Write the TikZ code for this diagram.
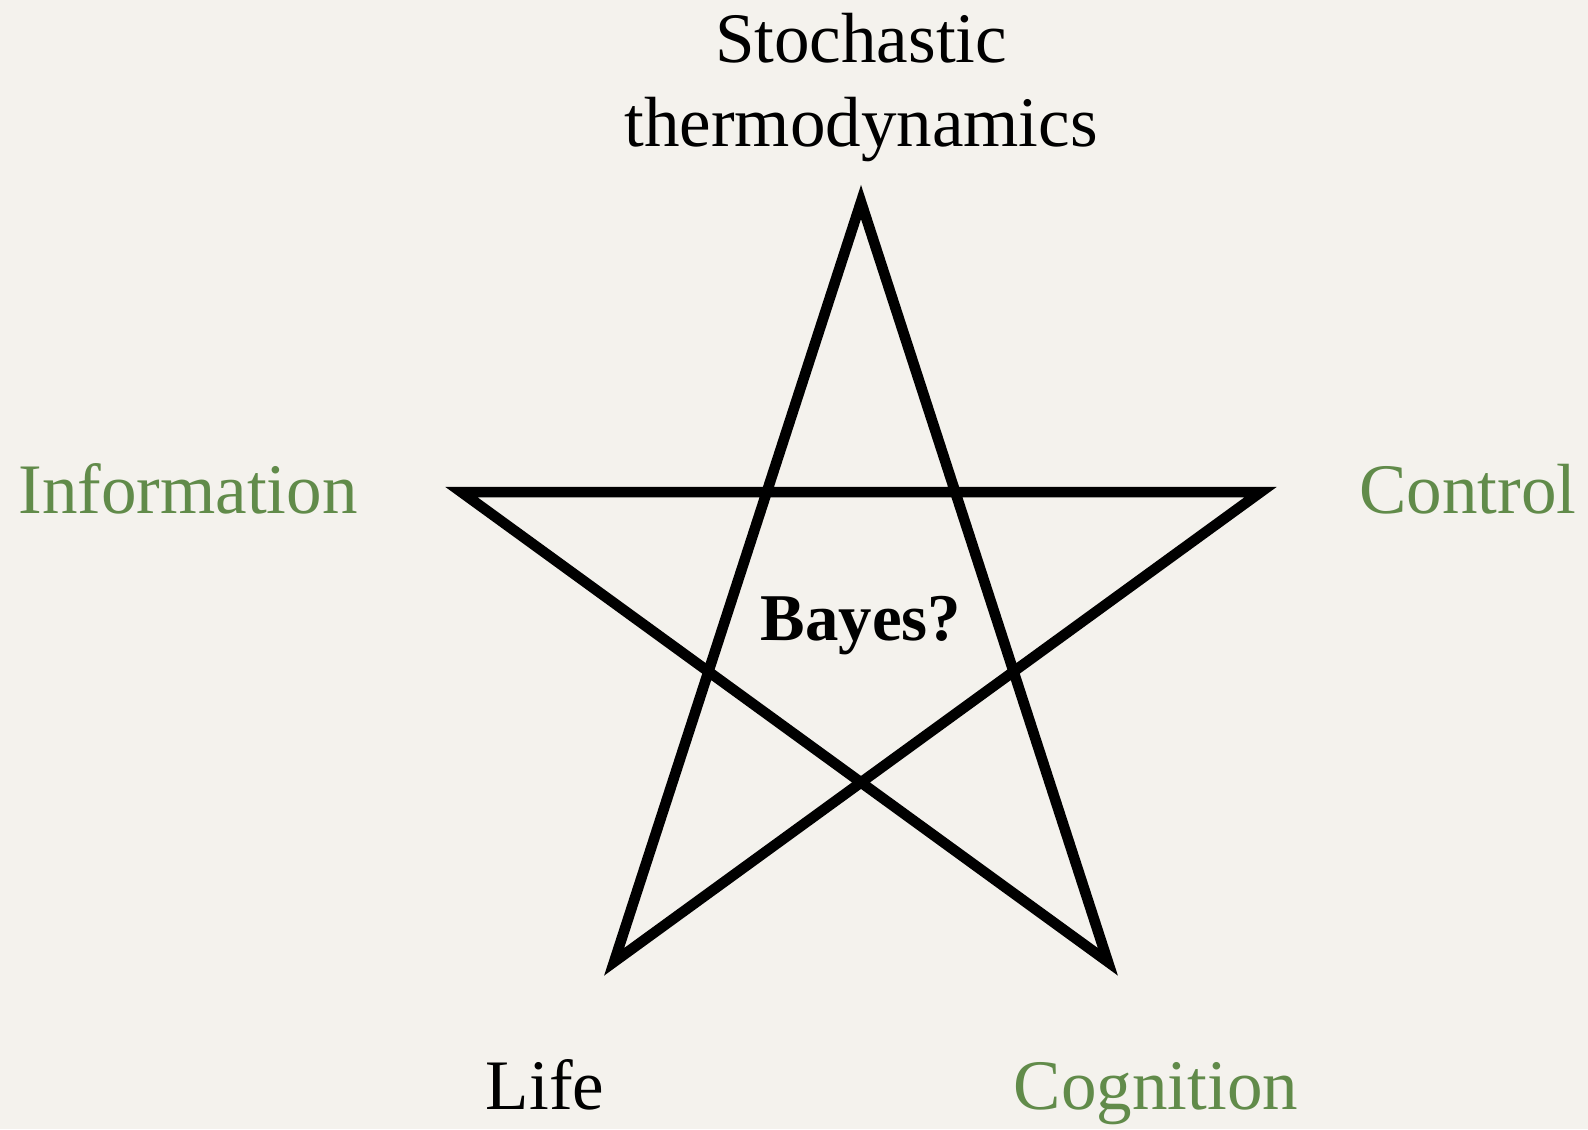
\documentclass[tikz,border=0pt]{standalone}
\usepackage{fontspec}
\setmainfont{Liberation Serif}
\usetikzlibrary{calc}
\definecolor{paper}{RGB}{244,242,237}
\definecolor{moss}{RGB}{97,139,74}
\definecolor{ink}{RGB}{0,0,0}
\tikzset{
  field/.style={text=#1,inner sep=0pt,anchor=base,align=center,
    font=\fontsize{20.2}{24}\selectfont},
  field/.default=ink,
  hub/.style={text=ink,inner sep=0pt,anchor=base,
    font=\fontsize{19}{23}\selectfont\bfseries},
  starline/.style={draw=ink,line width=3pt,line join=miter},
}
\begin{document}
\begin{tikzpicture}[x=0.01cm,y=0.01cm]
  \fill[paper] (0,0) rectangle (1588,1129);
  \useasboundingbox (0,0) rectangle (1588,1129);
  % star corners
  \coordinate (mid) at (861,507);
  \coordinate (top) at ($(mid)+(90:420)$);
  \coordinate (west) at ($(mid)+(162:420)$);
  \coordinate (east) at ($(mid)+(18:420)$);
  \coordinate (sw) at ($(mid)+(234:420)$);
  \coordinate (se) at ($(mid)+(306:420)$);
  \draw[starline] (top) -- (sw) -- (east) -- (west) -- (se) -- cycle;
  % labels
  \node[field] (thermo) at (861,982) {Stochastic\\thermodynamics};
  \node[field=moss] (info) at (188,616) {Information};
  \node[field=moss] (control) at (1468,616) {Control};
  \node[hub] (bayes) at (861,489) {Bayes?};
  \node[field] (life) at (545,20) {Life};
  \node[field=moss] (cognition) at (1156,20) {Cognition};
\end{tikzpicture}
\end{document}
